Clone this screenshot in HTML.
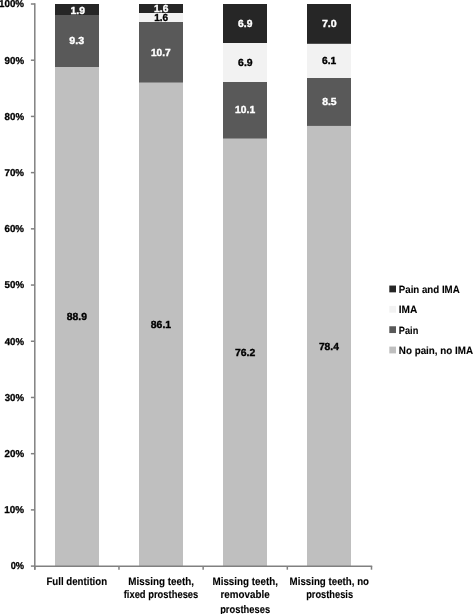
<!DOCTYPE html>
<html><head><meta charset="utf-8"><style>
html,body{margin:0;padding:0;background:#fff;width:473px;height:614px;overflow:hidden}
body{position:relative;font-family:"Liberation Sans", sans-serif}
svg text{font-kerning:none;text-rendering:geometricPrecision}
</style></head><body>
<svg width="473" height="614" viewBox="0 0 473 614" style="position:absolute;left:0;top:0;will-change:transform" font-family='"Liberation Sans", sans-serif' font-weight="bold">
<rect x="55.00" y="4.00" width="44" height="562.10" fill="#262626"/>
<rect x="55.00" y="15.00" width="44" height="551.10" fill="#595959"/>
<rect x="55.00" y="67.00" width="44" height="499.10" fill="#bfbfbf"/>
<rect x="139.00" y="4.00" width="44" height="562.10" fill="#262626"/>
<rect x="139.00" y="13.00" width="44" height="553.10" fill="#f2f2f2"/>
<rect x="139.00" y="22.00" width="44" height="544.10" fill="#595959"/>
<rect x="139.00" y="82.50" width="44" height="483.60" fill="#bfbfbf"/>
<rect x="223.00" y="4.00" width="44" height="562.10" fill="#262626"/>
<rect x="223.00" y="43.00" width="44" height="523.10" fill="#f2f2f2"/>
<rect x="223.00" y="82.00" width="44" height="484.10" fill="#595959"/>
<rect x="223.00" y="138.50" width="44" height="427.60" fill="#bfbfbf"/>
<rect x="307.00" y="4.00" width="44" height="562.10" fill="#262626"/>
<rect x="307.00" y="43.80" width="44" height="522.30" fill="#f2f2f2"/>
<rect x="307.00" y="78.00" width="44" height="488.10" fill="#595959"/>
<rect x="307.00" y="125.90" width="44" height="440.20" fill="#bfbfbf"/>
<g stroke="#808080" stroke-width="1.5" fill="none">
<line x1="34.8" y1="3.3" x2="34.8" y2="569.7"/>
<line x1="34.099999999999994" y1="566.3000000000001" x2="372.2" y2="566.3000000000001"/>
<line x1="30.9" y1="566.10" x2="34.8" y2="566.10"/>
<line x1="30.9" y1="509.89" x2="34.8" y2="509.89"/>
<line x1="30.9" y1="453.68" x2="34.8" y2="453.68"/>
<line x1="30.9" y1="397.47" x2="34.8" y2="397.47"/>
<line x1="30.9" y1="341.26" x2="34.8" y2="341.26"/>
<line x1="30.9" y1="285.05" x2="34.8" y2="285.05"/>
<line x1="30.9" y1="228.84" x2="34.8" y2="228.84"/>
<line x1="30.9" y1="172.63" x2="34.8" y2="172.63"/>
<line x1="30.9" y1="116.42" x2="34.8" y2="116.42"/>
<line x1="30.9" y1="60.21" x2="34.8" y2="60.21"/>
<line x1="30.9" y1="4.00" x2="34.8" y2="4.00"/>
<line x1="34.80" y1="566.1" x2="34.80" y2="569.7"/>
<line x1="118.97" y1="566.1" x2="118.97" y2="569.7"/>
<line x1="203.15" y1="566.1" x2="203.15" y2="569.7"/>
<line x1="287.32" y1="566.1" x2="287.32" y2="569.7"/>
<line x1="371.50" y1="566.1" x2="371.50" y2="569.7"/>
</g>
<text x="66.85" y="319.90" font-size="10.25" textLength="20.16" lengthAdjust="spacingAndGlyphs" fill="#000" stroke="#000" stroke-width="0.35">88.9</text>
<text x="69.31" y="44.35" font-size="10.25" textLength="14.80" lengthAdjust="spacingAndGlyphs" fill="#fff" stroke="#fff" stroke-width="0.35">9.3</text>
<text x="70.62" y="13.85" font-size="10.25" textLength="14.39" lengthAdjust="spacingAndGlyphs" fill="#fff" stroke="#fff" stroke-width="0.35">1.9</text>
<text x="150.84" y="327.85" font-size="10.25" textLength="20.27" lengthAdjust="spacingAndGlyphs" fill="#000" stroke="#000" stroke-width="0.35">86.1</text>
<text x="150.94" y="55.55" font-size="10.25" textLength="19.73" lengthAdjust="spacingAndGlyphs" fill="#fff" stroke="#fff" stroke-width="0.35">10.7</text>
<text x="154.14" y="20.75" font-size="10.25" textLength="13.94" lengthAdjust="spacingAndGlyphs" fill="#000" stroke="#000" stroke-width="0.35">1.6</text>
<text x="154.13" y="11.75" font-size="10.25" textLength="14.27" lengthAdjust="spacingAndGlyphs" fill="#fff" stroke="#fff" stroke-width="0.35">1.6</text>
<text x="234.93" y="355.85" font-size="10.25" textLength="20.32" lengthAdjust="spacingAndGlyphs" fill="#000" stroke="#000" stroke-width="0.35">76.2</text>
<text x="235.13" y="113.35" font-size="10.25" textLength="19.98" lengthAdjust="spacingAndGlyphs" fill="#fff" stroke="#fff" stroke-width="0.35">10.1</text>
<text x="238.09" y="65.65" font-size="10.25" textLength="14.52" lengthAdjust="spacingAndGlyphs" fill="#000" stroke="#000" stroke-width="0.35">6.9</text>
<text x="238.10" y="27.20" font-size="10.25" textLength="14.31" lengthAdjust="spacingAndGlyphs" fill="#fff" stroke="#fff" stroke-width="0.35">6.9</text>
<text x="318.93" y="349.65" font-size="10.25" textLength="19.95" lengthAdjust="spacingAndGlyphs" fill="#000" stroke="#000" stroke-width="0.35">78.4</text>
<text x="322.15" y="105.35" font-size="10.25" textLength="14.37" lengthAdjust="spacingAndGlyphs" fill="#fff" stroke="#fff" stroke-width="0.35">8.5</text>
<text x="322.10" y="64.15" font-size="10.25" textLength="14.21" lengthAdjust="spacingAndGlyphs" fill="#000" stroke="#000" stroke-width="0.35">6.1</text>
<text x="321.92" y="27.25" font-size="10.25" textLength="14.85" lengthAdjust="spacingAndGlyphs" fill="#fff" stroke="#fff" stroke-width="0.35">7.0</text>
<text x="10.63" y="569.39" font-size="10.00" textLength="13.41" lengthAdjust="spacingAndGlyphs" fill="#000" stroke="#000" stroke-width="0.30">0%</text>
<text x="4.28" y="513.18" font-size="10.00" textLength="19.78" lengthAdjust="spacingAndGlyphs" fill="#000" stroke="#000" stroke-width="0.30">10%</text>
<text x="4.56" y="456.97" font-size="10.00" textLength="19.49" lengthAdjust="spacingAndGlyphs" fill="#000" stroke="#000" stroke-width="0.30">20%</text>
<text x="4.68" y="400.76" font-size="10.00" textLength="19.38" lengthAdjust="spacingAndGlyphs" fill="#000" stroke="#000" stroke-width="0.30">30%</text>
<text x="4.75" y="344.55" font-size="10.00" textLength="19.30" lengthAdjust="spacingAndGlyphs" fill="#000" stroke="#000" stroke-width="0.30">40%</text>
<text x="4.60" y="288.34" font-size="10.00" textLength="19.46" lengthAdjust="spacingAndGlyphs" fill="#000" stroke="#000" stroke-width="0.30">50%</text>
<text x="4.54" y="232.13" font-size="10.00" textLength="19.51" lengthAdjust="spacingAndGlyphs" fill="#000" stroke="#000" stroke-width="0.30">60%</text>
<text x="4.48" y="175.92" font-size="10.00" textLength="19.58" lengthAdjust="spacingAndGlyphs" fill="#000" stroke="#000" stroke-width="0.30">70%</text>
<text x="4.59" y="119.71" font-size="10.00" textLength="19.47" lengthAdjust="spacingAndGlyphs" fill="#000" stroke="#000" stroke-width="0.30">80%</text>
<text x="4.56" y="63.50" font-size="10.00" textLength="19.49" lengthAdjust="spacingAndGlyphs" fill="#000" stroke="#000" stroke-width="0.30">90%</text>
<text x="-0.94" y="6.79" font-size="10.00" textLength="25.00" lengthAdjust="spacingAndGlyphs" fill="#000" stroke="#000" stroke-width="0.30">100%</text>
<text x="46.41" y="584.84" font-size="10.50" textLength="60.73" lengthAdjust="spacingAndGlyphs" fill="#000" stroke="#000" stroke-width="0.12" transform="matrix(1 0 0 1.0400 0 -23.394)">Full dentition</text>
<text x="128.30" y="584.94" font-size="10.50" textLength="65.70" lengthAdjust="spacingAndGlyphs" fill="#000" stroke="#000" stroke-width="0.12" transform="matrix(1 0 0 1.0400 0 -23.398)">Missing teeth,</text>
<text x="123.70" y="598.34" font-size="10.50" textLength="74.63" lengthAdjust="spacingAndGlyphs" fill="#000" stroke="#000" stroke-width="0.12" transform="matrix(1 0 0 1.0400 0 -23.934)">fixed prostheses</text>
<text x="212.50" y="584.94" font-size="10.50" textLength="65.49" lengthAdjust="spacingAndGlyphs" fill="#000" stroke="#000" stroke-width="0.12" transform="matrix(1 0 0 1.0400 0 -23.398)">Missing teeth,</text>
<text x="220.51" y="598.34" font-size="10.50" textLength="49.16" lengthAdjust="spacingAndGlyphs" fill="#000" stroke="#000" stroke-width="0.12" transform="matrix(1 0 0 1.0400 0 -23.934)">removable</text>
<text x="220.14" y="612.54" font-size="10.50" textLength="49.98" lengthAdjust="spacingAndGlyphs" fill="#000" stroke="#000" stroke-width="0.12" transform="matrix(1 0 0 1.0400 0 -24.502)">prostheses</text>
<text x="289.61" y="584.94" font-size="10.50" textLength="79.41" lengthAdjust="spacingAndGlyphs" fill="#000" stroke="#000" stroke-width="0.12" transform="matrix(1 0 0 1.0400 0 -23.398)">Missing teeth, no</text>
<text x="306.15" y="598.34" font-size="10.50" textLength="46.97" lengthAdjust="spacingAndGlyphs" fill="#000" stroke="#000" stroke-width="0.12" transform="matrix(1 0 0 1.0400 0 -23.934)">prosthesis</text>
<rect x="389.3" y="285.55" width="6.7" height="6.8" fill="#262626"/>
<text x="398.80" y="292.85" font-size="10.40" textLength="60.90" lengthAdjust="spacingAndGlyphs" fill="#000" stroke="#000" stroke-width="0.10">Pain and IMA</text>
<rect x="389.3" y="305.90" width="6.7" height="6.8" fill="#f2f2f2"/>
<text x="398.77" y="313.20" font-size="10.40" textLength="18.54" lengthAdjust="spacingAndGlyphs" fill="#000" stroke="#000" stroke-width="0.10">IMA</text>
<rect x="389.3" y="326.25" width="6.7" height="6.8" fill="#595959"/>
<text x="398.83" y="333.55" font-size="10.40" textLength="19.49" lengthAdjust="spacingAndGlyphs" fill="#000" stroke="#000" stroke-width="0.10">Pain</text>
<rect x="389.3" y="346.60" width="6.7" height="6.8" fill="#bfbfbf"/>
<text x="398.79" y="353.90" font-size="10.40" textLength="74.32" lengthAdjust="spacingAndGlyphs" fill="#000" stroke="#000" stroke-width="0.10">No pain, no IMA</text>
</svg>
</body></html>
